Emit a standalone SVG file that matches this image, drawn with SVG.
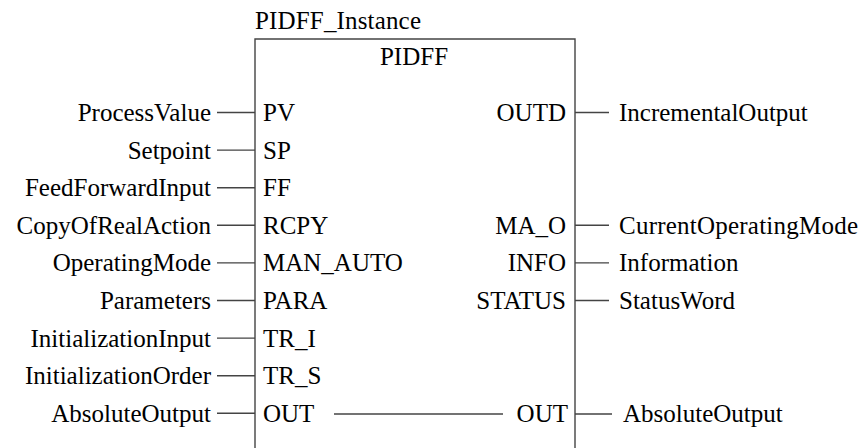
<svg xmlns="http://www.w3.org/2000/svg" width="864" height="448" viewBox="0 0 864 448">
<style>
text{font-family:'Liberation Serif','Times New Roman',serif;font-size:25px;fill:#000}
.e{text-anchor:end}
.m{text-anchor:middle}
.ln{stroke:#444;stroke-width:1.4;fill:none}
</style>
<rect width="864" height="448" fill="#fff"/>
<g id="block">
<text x="255" y="29" textLength="166">PIDFF_Instance</text>
<path class="ln" d="M255,460V39H575V460"/>
<text class="m" x="414" y="65">PIDFF</text>
<text x="263" y="121">PV</text>
<text x="263" y="159">SP</text>
<text x="263" y="196">FF</text>
<text x="263" y="234">RCPY</text>
<text x="263" y="271">MAN_AUTO</text>
<text x="263" y="309">PARA</text>
<text x="263" y="347">TR_I</text>
<text x="263" y="384">TR_S</text>
<text x="263" y="422">OUT</text>
<text class="e" x="566" y="121">OUTD</text>
<text class="e" x="566" y="234">MA_O</text>
<text class="e" x="566" y="271">INFO</text>
<text class="e" x="566" y="309">STATUS</text>
<text class="e" x="568" y="422">OUT</text>
</g>
<g id="inputs">
<text class="e" x="211" y="121">ProcessValue</text>
<text class="e" x="211" y="159">Setpoint</text>
<text class="e" x="211" y="196">FeedForwardInput</text>
<text class="e" x="211" y="234">CopyOfRealAction</text>
<text class="e" x="211" y="271">OperatingMode</text>
<text class="e" x="211" y="309">Parameters</text>
<text class="e" x="211" y="347">InitializationInput</text>
<text class="e" x="211" y="384">InitializationOrder</text>
<text class="e" x="211" y="422">AbsoluteOutput</text>
</g>
<g id="outputs">
<text x="619" y="121">IncrementalOutput</text>
<text x="619" y="234" textLength="239">CurrentOperatingMode</text>
<text x="619" y="271">Information</text>
<text x="619" y="309">StatusWord</text>
<text x="623" y="422">AbsoluteOutput</text>
</g>
<g id="connectors" class="ln">
<path d="M217,112.5H255M217,150.1H255M217,187.7H255M217,225.3H255M217,262.9H255M217,300.5H255M217,338.1H255M217,375.7H255M217,413.3H255"/>
<path d="M575,112.5H609M575,225.3H609M575,262.9H609M575,300.5H609M575,414H612"/>
<path d="M334,414H503"/>
</g>
</svg>
